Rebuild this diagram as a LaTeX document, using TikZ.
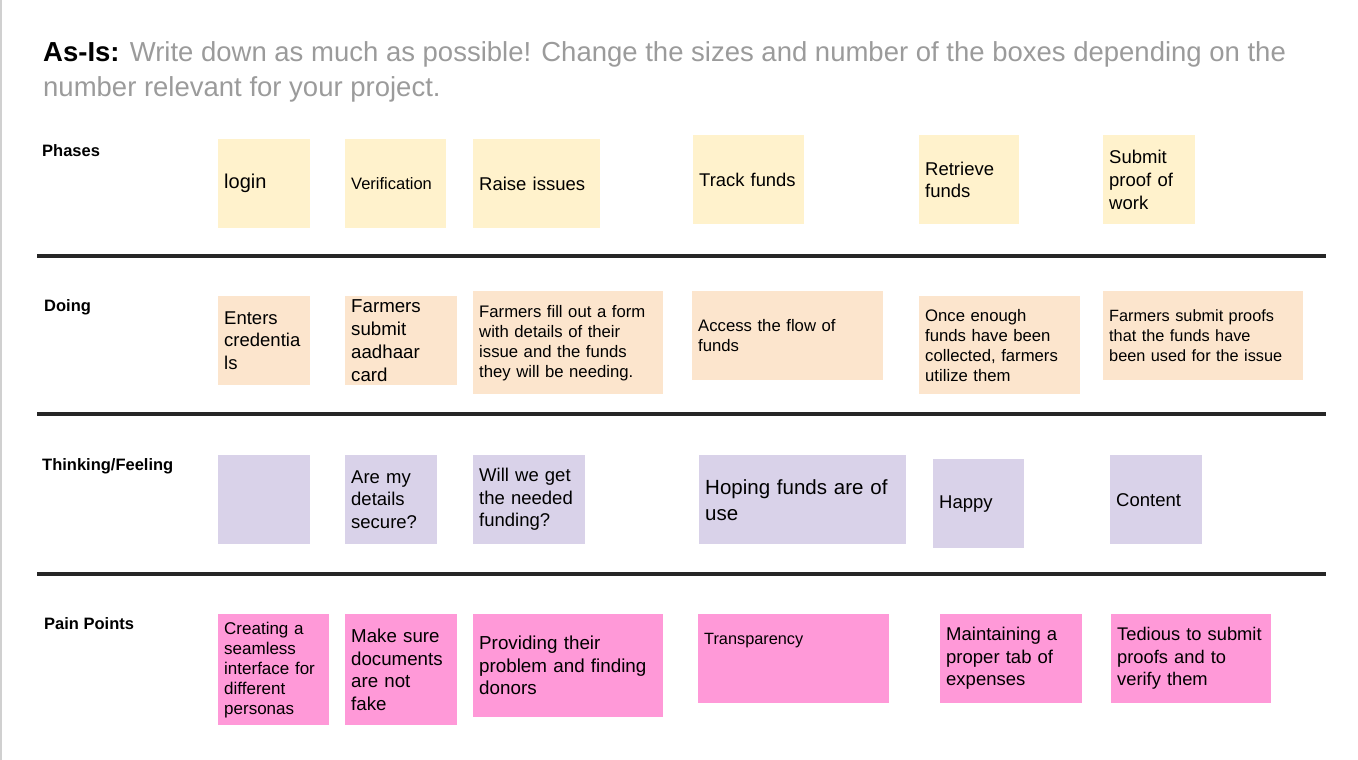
\documentclass[tikz,border=0pt]{standalone}
\usepackage{fontspec}
\setmainfont{Liberation Sans}
\usepackage{xcolor}
\usetikzlibrary{positioning}

\definecolor{phasecol}{HTML}{FFF2CC}
\definecolor{doingcol}{HTML}{FCE5CD}
\definecolor{thinkcol}{HTML}{D9D2E9}
\definecolor{paincol}{HTML}{FF99D8}
\definecolor{titlegrey}{HTML}{9B9B9B}
\definecolor{rulecol}{HTML}{262626}
\definecolor{edgegrey}{HTML}{D0D0D0}
\newcommand{\fsz}[2]{\fontsize{#1}{#2}\selectfont}

\begin{document}
\begin{tikzpicture}[x=1pt, y=-1pt,
  note/.style={anchor=north west, inner xsep=6pt, inner ysep=0pt, align=left, text=black},
  phase/.style={note, fill=phasecol},
  doing/.style={note, fill=doingcol},
  think/.style={note, fill=thinkcol},
  pain/.style={note, fill=paincol},
  rowlabel/.style={anchor=base west, inner sep=0pt, font=\fsz{16.5}{20}\bfseries},
  divider/.style={line width=4pt, rulecol}]
  \useasboundingbox (0,0) rectangle (1358,760);
  \fill[edgegrey] (0,0) rectangle (2,760);
  % Title
  \node[anchor=base west, inner sep=0pt, align=left, text=titlegrey, font=\fsz{27.5}{35}] (title) at (43,96)
    {{\color{black}\bfseries As-Is:} Write down as much as possible! Change the sizes and number of the boxes depending on the\\number relevant for your project.};
  % Row labels
  \node[rowlabel] (phases) at (42,156) {Phases};
  \node[rowlabel] (doing) at (44,311) {Doing};
  \node[rowlabel] (thinking) at (42,470) {Thinking/Feeling};
  \node[rowlabel] (pain) at (44,629) {Pain Points};
  % Dividers
  \draw[divider] (37,256) -- (1326,256);
  \draw[divider] (37,414) -- (1326,414);
  \draw[divider] (37,574) -- (1326,574);
  % Phases
  \node[phase, text width=80, minimum height=89, font=\fsz{20}{24}] (login) at (218,139) {login};
  \node[phase, text width=89, minimum height=89, font=\fsz{16.5}{20}] (verif) at (345,139) {Verification};
  \node[phase, text width=115, minimum height=89, font=\fsz{18.5}{22}] (raise) at (473,139) {Raise issues};
  \node[phase, text width=99, minimum height=89, font=\fsz{18.4}{22}] (track) at (693,135) {Track funds};
  \node[phase, text width=88, minimum height=89, font=\fsz{18.5}{22.5}] (retrieve) at (919,135) {Retrieve\\funds};
  \node[phase, text width=80, minimum height=89, font=\fsz{18.5}{23}] (proof) at (1103,135) {Submit\\proof of\\work};
  % Doing
  \node[doing, text width=80, minimum height=89, font=\fsz{18.5}{22.7}] (enters) at (218,296) {Enters\\credentia\\ls};
  \node[doing, text width=100, minimum height=89, font=\fsz{18.7}{22.7}] (aadhaar) at (345,296) {Farmers\\submit\\aadhaar\\card};
  \node[doing, text width=178, minimum height=103, font=\fsz{16.7}{20}] (form) at (473,291)
    {Farmers fill out a form\\with details of their\\issue and the funds\\they will be needing.};
  \node[doing, text width=179, minimum height=89, font=\fsz{16.7}{20}] (access) at (692,291) {Access the flow of\\funds};
  \node[doing, text width=149, minimum height=98, font=\fsz{16.7}{20}] (utilize) at (919,296)
    {Once enough\\funds have been\\collected, farmers\\utilize them};
  \node[doing, text width=188, minimum height=89, font=\fsz{16.3}{20}] (proofs) at (1103,291)
    {Farmers submit proofs\\that the funds have\\been used for the issue};
  % Thinking/Feeling
  \node[think, text width=80, minimum height=89] (blank) at (218,455) {};
  \node[think, text width=80, minimum height=89, font=\fsz{18.5}{22.5}] (secure) at (345,455) {Are my\\details\\secure?};
  \node[think, text width=100, minimum height=89, font=\fsz{18.5}{22.5}] (funding) at (473,455) {Will we get\\the needed\\funding?};
  \node[think, text width=195, minimum height=89, font=\fsz{20.5}{26}] (hoping) at (699,455) {Hoping funds are of\\use};
  \node[think, text width=79, minimum height=89, font=\fsz{18.5}{22.5}] (happy) at (933,459) {Happy};
  \node[think, text width=80, minimum height=89, font=\fsz{18.5}{22.5}] (content) at (1110,455) {Content};
  % Pain Points
  \node[pain, text width=99, minimum height=111, font=\fsz{17}{20}] (seamless) at (218,614)
    {Creating a\\seamless\\interface for\\different\\personas};
  \node[pain, text width=100, minimum height=111, font=\fsz{18.7}{22.7}] (fake) at (345,614) {Make sure\\documents\\are not\\fake};
  \node[pain, text width=178, minimum height=103, font=\fsz{18.8}{22.5}] (donors) at (473,614)
    {Providing their\\problem and finding\\donors};
  \node[pain, text width=179, minimum height=89, font=\fsz{16.3}{20}] (transp) at (698,614) {Transparency\\\mbox{}\\\mbox{}};
  \node[pain, text width=130, minimum height=89, font=\fsz{18.5}{22.5}] (expenses) at (940,614) {Maintaining a\\proper tab of\\expenses};
  \node[pain, text width=148, minimum height=89, font=\fsz{18.3}{22.5}] (tedious) at (1111,614) {Tedious to submit\\proofs and to\\verify them};
\end{tikzpicture}
\end{document}
